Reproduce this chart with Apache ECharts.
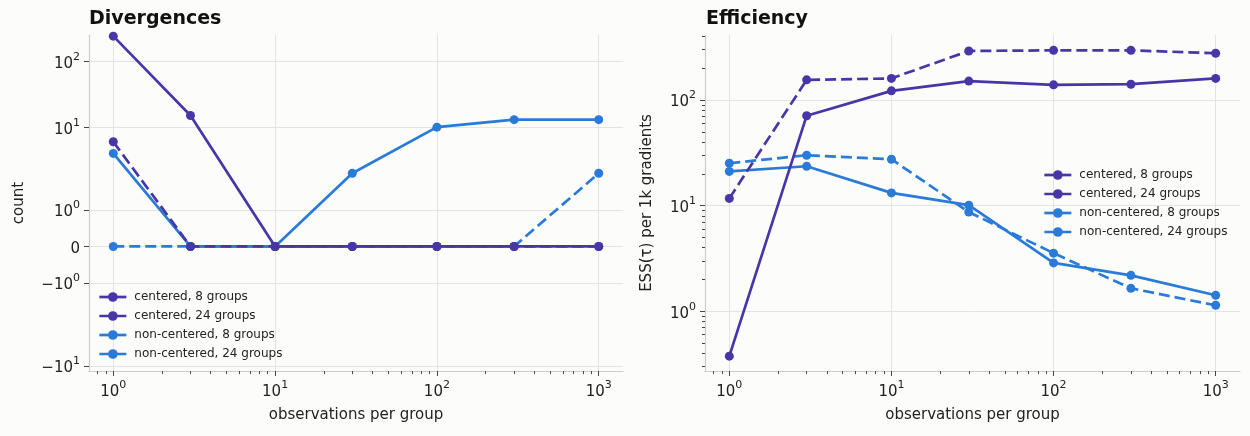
<!DOCTYPE html>
<html>
<head>
<meta charset="utf-8">
<script src="https://cdn.jsdelivr.net/npm/echarts@6/dist/echarts.min.js"></script>
<style>
  html, body { margin: 0; padding: 0; background: #fcfcfb; }
  #chart { width: 1250px; height: 436px; }
</style>
</head>
<body>
<div id="chart"></div>
<script>
// observations per group (x, both panels)
const observations = [1, 3, 10, 30, 100, 300, 1000];

const seriesNames = ['centered, 8 groups', 'centered, 24 groups', 'non-centered, 8 groups', 'non-centered, 24 groups'];

// divergence counts
const divCentered8 = [240, 15, 0, 0, 0, 0, 0];
const divCentered24 = [6, 0, 0, 0, 0, 0, 0];
const divNonCentered8 = [4, 0, 0, 2, 10, 13, 13];
const divNonCentered24 = [0, 0, 0, 0, 0, 0, 2];

// ESS(tau) per 1k gradients
const essCentered8 = [0.376, 71, 122, 151, 139, 141, 160];
const essCentered24 = [11.7, 155, 160, 291, 295, 295, 277];
const essNonCentered8 = [21.1, 23.6, 13.2, 10.1, 2.87, 2.19, 1.42];
const essNonCentered24 = [25.2, 30, 27.5, 8.7, 3.55, 1.65, 1.14];

// tick labels (base, exponent)
const xTickValues = [1, 10, 100, 1000];
const xTickLabels = [['10', '0'], ['10', '1'], ['10', '2'], ['10', '3']];
const divTickValues = [-10, -1, 0, 1, 10, 100];
const divTickLabels = [['−10', '1'], ['−10', '0'], ['0', ''], ['10', '0'], ['10', '1'], ['10', '2']];
const essTickValues = [1, 10, 100];
const essTickLabels = [['10', '0'], ['10', '1'], ['10', '2']];

// symlog transform (linthresh 2, linscale 1), like matplotlib
const LINTHRESH = 2;
const LINSCALE_ADJ = 1 / (1 - 1 / 10);
function symlog(v) {
    const a = Math.abs(v);
    if (a <= LINTHRESH) return v * LINSCALE_ADJ;
    return Math.sign(v) * LINTHRESH * (LINSCALE_ADJ + Math.log10(a / LINTHRESH));
}
const log10 = Math.log10;

function minorLogTicks(lo, hi) {
    const out = [];
    for (let e = Math.floor(lo) - 1; e <= Math.ceil(hi); e++) {
        for (let k = 2; k <= 9; k++) {
            const v = log10(k) + e;
            if (v >= lo && v <= hi) out.push(v);
        }
    }
    return out;
}

function labelFor(values, labels, tf) {
    return function (v) {
        let best = 0;
        values.forEach(function (t, i) {
            if (Math.abs(tf(t) - v) < Math.abs(tf(values[best]) - v)) best = i;
        });
        const l = labels[best];
        return l[1] ? '{b|' + l[0] + '}{s|' + l[1] + '}' : '{b|' + l[0] + '}';
    };
}

const PURPLE = '#4836a8';
const BLUE = '#2a7bd8';
const colors = [PURPLE, PURPLE, BLUE, BLUE];
const dashed = [false, true, false, true];

const X_MIN = -0.15, X_MAX = 3.15;
const DIV_MIN = symlog(-12), DIV_MAX = symlog(250);
const ESS_MIN = -0.565, ESS_MAX = 2.615;

const font = 'DejaVu Sans';
const tickColor = '#444';
const spineColor = '#cccccc';
const gridColor = '#e4e4e4';

const richTicks = {
    b: {fontFamily: font, fontSize: 15, color: '#222', lineHeight: 20, verticalAlign: 'bottom'},
    s: {fontFamily: font, fontSize: 11, color: '#222', lineHeight: 20, verticalAlign: 'top'}
};

function mainX(gridIndex) {
    return {
        type: 'value', gridIndex: gridIndex, min: X_MIN, max: X_MAX, position: 'bottom',
        name: 'observations per group', nameLocation: 'middle', nameGap: 37,
        nameTextStyle: {fontFamily: font, fontSize: 15, color: '#222'},
        axisLine: {show: true, onZero: false, lineStyle: {color: spineColor, width: 1.2}},
        axisTick: {show: true, length: 5, lineStyle: {color: tickColor}, customValues: xTickValues.map(log10)},
        axisLabel: {customValues: xTickValues.map(log10), margin: 9, rich: richTicks,
            formatter: labelFor(xTickValues, xTickLabels, log10)},
        splitLine: {show: true, lineStyle: {color: gridColor, width: 1}}
    };
}

function minorAxis(gridIndex, lo, hi, position) {
    return {
        type: 'value', gridIndex: gridIndex, min: lo, max: hi, position: position,
        axisLine: {show: false, onZero: false},
        axisTick: {show: true, length: 3, lineStyle: {color: tickColor}, customValues: minorLogTicks(lo, hi)},
        axisLabel: {show: false},
        splitLine: {show: false}
    };
}

const yAxisName = {nameLocation: 'middle', nameTextStyle: {fontFamily: font, fontSize: 15, color: '#222'}};

const divData = [divCentered8, divCentered24, divNonCentered8, divNonCentered24];
const essData = [essCentered8, essCentered24, essNonCentered8, essNonCentered24];

const series = [];
seriesNames.forEach(function (name, i) {
    const common = {
        name: name, type: 'line', symbol: 'circle', symbolSize: 9,
        color: colors[i],
        lineStyle: {width: 2.7, type: dashed[i] ? [11, 5] : 'solid', color: colors[i]},
        itemStyle: {color: colors[i]},
        z: 10 - i,
        animation: false
    };
    series.push(Object.assign({}, common, {
        xAxisIndex: 0, yAxisIndex: 0,
        data: observations.map(function (x, j) { return [log10(x), symlog(divData[i][j])]; })
    }));
    series.push(Object.assign({}, common, {
        xAxisIndex: 2, yAxisIndex: 1,
        data: observations.map(function (x, j) { return [log10(x), log10(essData[i][j])]; })
    }));
});

const legendCommon = {
    orient: 'vertical', itemWidth: 27, itemHeight: 12, itemGap: 7, padding: 0,
    lineStyle: {width: 2.7},
    textStyle: {fontFamily: font, fontSize: 12, color: '#222', padding: [0, 0, 0, 3]},
    data: seriesNames
};

let myChart = echarts.init(document.getElementById('chart'), null, {renderer: 'canvas'});
myChart.setOption({
    backgroundColor: '#fcfcfb',
    animation: false,
    title: [
        {text: 'Divergences', left: 89, top: 10, padding: 0,
            textStyle: {fontFamily: font, fontSize: 19, fontWeight: 'bold', color: '#111'}},
        {text: 'Efficiency', left: 706, top: 10, padding: 0,
            textStyle: {fontFamily: font, fontSize: 19, fontWeight: 'bold', color: '#111'}}
    ],
    legend: [
        Object.assign({left: 98, top: 291}, legendCommon),
        Object.assign({left: 1043, top: 169}, legendCommon)
    ],
    grid: [
        {left: 89, top: 35, width: 534, height: 336},
        {left: 705, top: 35, width: 535, height: 336}
    ],
    xAxis: [
        mainX(0),
        minorAxis(0, X_MIN, X_MAX, 'bottom'),
        mainX(1),
        minorAxis(1, X_MIN, X_MAX, 'bottom')
    ],
    yAxis: [
        Object.assign({
            type: 'value', gridIndex: 0, min: DIV_MIN, max: DIV_MAX, position: 'left',
            name: 'count', nameGap: 62,
            axisLine: {show: true, onZero: false, lineStyle: {color: spineColor, width: 1.2}},
            axisTick: {show: true, length: 5, lineStyle: {color: tickColor}, customValues: divTickValues.map(symlog)},
            axisLabel: {customValues: divTickValues.map(symlog), margin: 9, rich: richTicks,
                formatter: labelFor(divTickValues, divTickLabels, symlog)},
            splitLine: {show: true, lineStyle: {color: gridColor, width: 1}}
        }, yAxisName),
        Object.assign({
            type: 'value', gridIndex: 1, min: ESS_MIN, max: ESS_MAX, position: 'left',
            name: 'ESS(τ) per 1k gradients', nameGap: 50,
            axisLine: {show: true, onZero: false, lineStyle: {color: spineColor, width: 1.2}},
            axisTick: {show: true, length: 5, lineStyle: {color: tickColor}, customValues: essTickValues.map(log10)},
            axisLabel: {customValues: essTickValues.map(log10), margin: 9, rich: richTicks,
                formatter: labelFor(essTickValues, essTickLabels, log10)},
            splitLine: {show: true, lineStyle: {color: gridColor, width: 1}}
        }, yAxisName),
        minorAxis(1, ESS_MIN, ESS_MAX, 'left')
    ],
    series: series
});
</script>
</body>
</html>
